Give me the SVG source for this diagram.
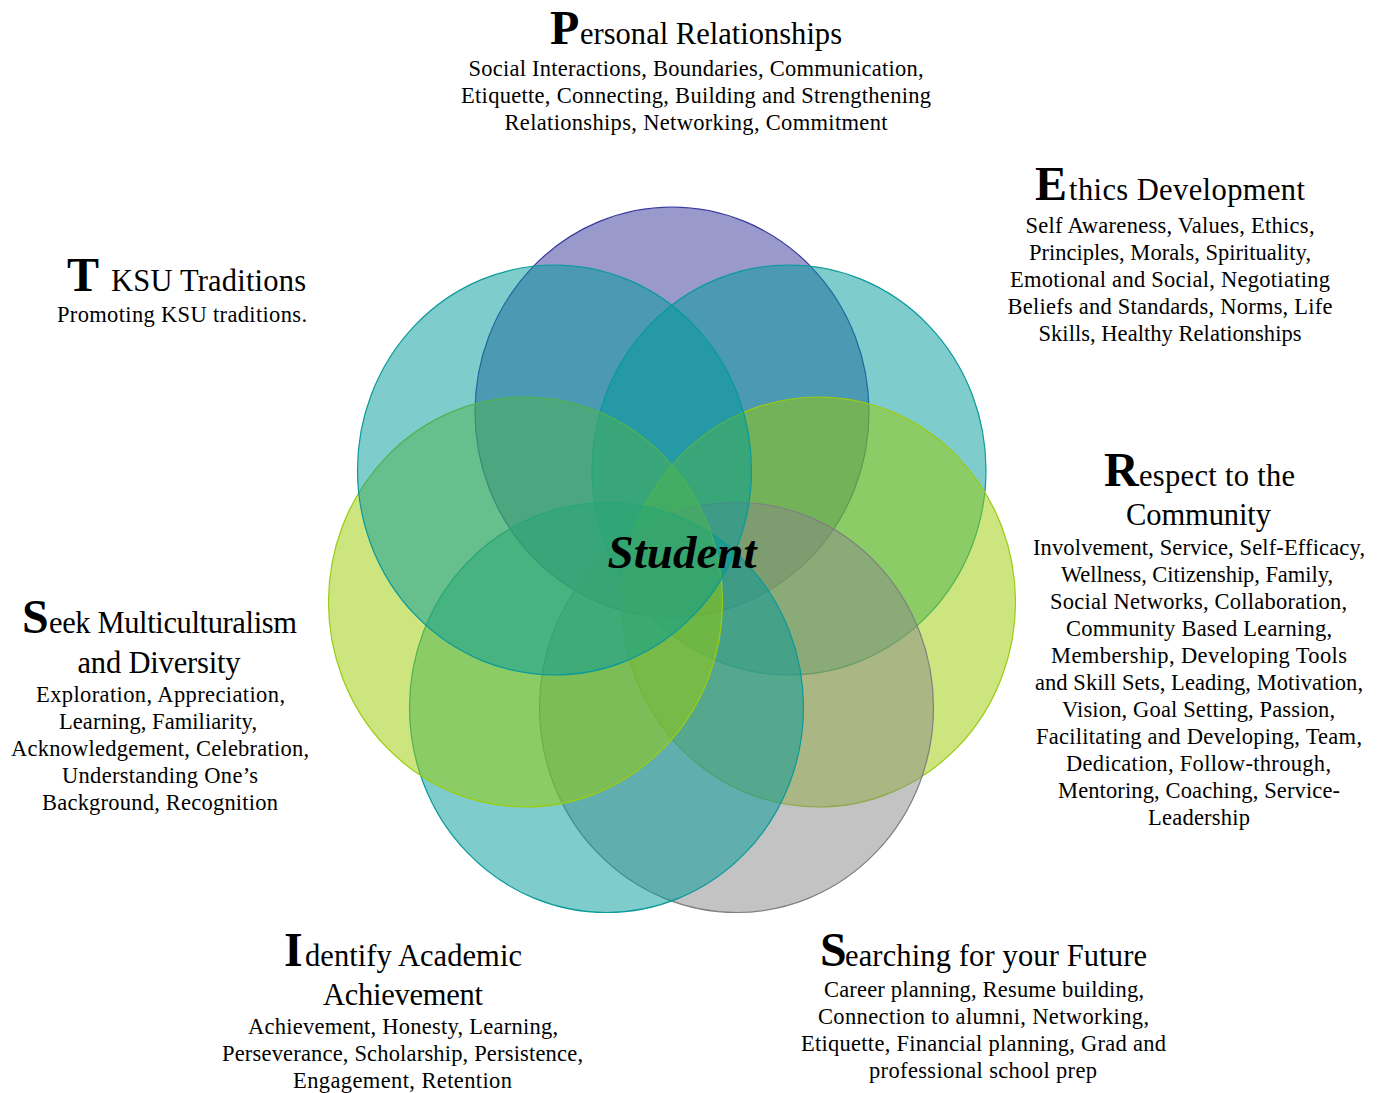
<svg xmlns="http://www.w3.org/2000/svg" width="1383" height="1093" viewBox="0 0 1383 1093">
<style>
text{font-family:"Liberation Serif","Times New Roman",serif;fill:#000}
.b{font-size:22.5px;text-anchor:middle}
.h{font-size:30.5px}
.hm{font-size:30.5px;text-anchor:middle}
.c{font-size:48px;font-weight:bold}
.e{stroke-width:1.2}
.pu{fill:#333399;fill-opacity:.5;stroke:#3a3aa0}
.te{fill:#009999;fill-opacity:.5;stroke:#0a9a9a}
.ye{fill:#99cc00;fill-opacity:.5;stroke:#99cc11}
.gr{fill:#888888;fill-opacity:.5;stroke:#808080}
.st{font-size:47px;font-weight:bold;font-style:italic;text-anchor:middle}
</style>
<rect width="1383" height="1093" fill="#fff"/>
<g id="connectors"/>
<g id="personal">
<ellipse class="e pu" cx="672" cy="412" rx="197" ry="205"/>
<text class="c" x="550" y="44">P</text>
<text class="h" x="580" y="44" textLength="262">ersonal Relationships</text>
<text class="b" x="696" y="76" textLength="455">Social Interactions, Boundaries, Communication,</text>
<text class="b" x="696" y="103" textLength="470">Etiquette, Connecting, Building and Strengthening</text>
<text class="b" x="696" y="130" textLength="383">Relationships, Networking, Commitment</text>
</g>
<g id="ethics">
<ellipse class="e te" cx="789" cy="470" rx="197" ry="205"/>
<text class="c" x="1035" y="200">E</text>
<text class="h" x="1069" y="200" textLength="236">thics Development</text>
<text class="b" x="1170" y="233" textLength="289">Self Awareness, Values, Ethics,</text>
<text class="b" x="1170" y="260" textLength="282">Principles, Morals, Spirituality,</text>
<text class="b" x="1170" y="287" textLength="320">Emotional and Social, Negotiating</text>
<text class="b" x="1170" y="314" textLength="325">Beliefs and Standards, Norms, Life</text>
<text class="b" x="1170" y="341" textLength="263">Skills, Healthy Relationships</text>
</g>
<g id="respect">
<ellipse class="e ye" cx="818.5" cy="602" rx="197" ry="205"/>
<text class="c" x="1104" y="486">R</text>
<text class="h" x="1139" y="486" textLength="156">espect to the</text>
<text class="hm" x="1198.5" y="525" textLength="145">Community</text>
<text class="b" x="1199" y="555" textLength="332">Involvement, Service, Self-Efficacy,</text>
<text class="b" x="1197" y="582" textLength="272">Wellness, Citizenship, Family,</text>
<text class="b" x="1198.5" y="609" textLength="297">Social Networks, Collaboration,</text>
<text class="b" x="1199" y="636" textLength="266">Community Based Learning,</text>
<text class="b" x="1199" y="663" textLength="296">Membership, Developing Tools</text>
<text class="b" x="1199" y="690" textLength="328">and Skill Sets, Leading, Motivation,</text>
<text class="b" x="1198.5" y="717" textLength="273">Vision, Goal Setting, Passion,</text>
<text class="b" x="1199" y="744" textLength="326">Facilitating and Developing, Team,</text>
<text class="b" x="1198.5" y="771" textLength="265">Dedication, Follow-through,</text>
<text class="b" x="1199" y="798" textLength="282">Mentoring, Coaching, Service-</text>
<text class="b" x="1199" y="825" textLength="102">Leadership</text>
</g>
<g id="searching">
<ellipse class="e gr" cx="736.5" cy="707.5" rx="197" ry="205"/>
<text class="c" x="820" y="966">S</text>
<text class="h" x="845" y="966" textLength="302">earching for your Future</text>
<text class="b" x="984" y="997" textLength="320">Career planning, Resume building,</text>
<text class="b" x="983.5" y="1024" textLength="331">Connection to alumni, Networking,</text>
<text class="b" x="983.5" y="1051" textLength="365">Etiquette, Financial planning, Grad and</text>
<text class="b" x="983" y="1078" textLength="228">professional school prep</text>
</g>
<g id="identify">
<ellipse class="e te" cx="606.5" cy="707.5" rx="197" ry="205"/>
<text class="c" x="284" y="966">I</text>
<text class="h" x="305" y="966" textLength="217">dentify  Academic</text>
<text class="hm" x="403" y="1005" textLength="160">Achievement</text>
<text class="b" x="403" y="1034" textLength="310">Achievement, Honesty, Learning,</text>
<text class="b" x="402.5" y="1061" textLength="361">Perseverance, Scholarship, Persistence,</text>
<text class="b" x="402.5" y="1088" textLength="219">Engagement, Retention</text>
</g>
<g id="seek">
<ellipse class="e ye" cx="525.5" cy="602" rx="197" ry="205"/>
<text class="c" x="22" y="633">S</text>
<text class="h" x="49" y="633" textLength="248">eek Multiculturalism</text>
<text class="hm" x="159" y="673" textLength="163">and Diversity</text>
<text class="b" x="160.5" y="702" textLength="249">Exploration, Appreciation,</text>
<text class="b" x="158" y="729" textLength="198">Learning, Familiarity,</text>
<text class="b" x="160" y="756" textLength="298">Acknowledgement, Celebration,</text>
<text class="b" x="160" y="783" textLength="196">Understanding One’s</text>
<text class="b" x="160" y="810" textLength="236">Background, Recognition</text>
</g>
<g id="traditions">
<ellipse class="e te" cx="554.5" cy="470" rx="197" ry="205"/>
<text class="c" x="67" y="291">T</text>
<text class="h" x="111" y="291" textLength="195">KSU Traditions</text>
<text class="b" x="182" y="322" textLength="250">Promoting KSU traditions.</text>
</g>
<g id="student">
<text class="st" x="682" y="568">Student</text>
</g>
</svg>
